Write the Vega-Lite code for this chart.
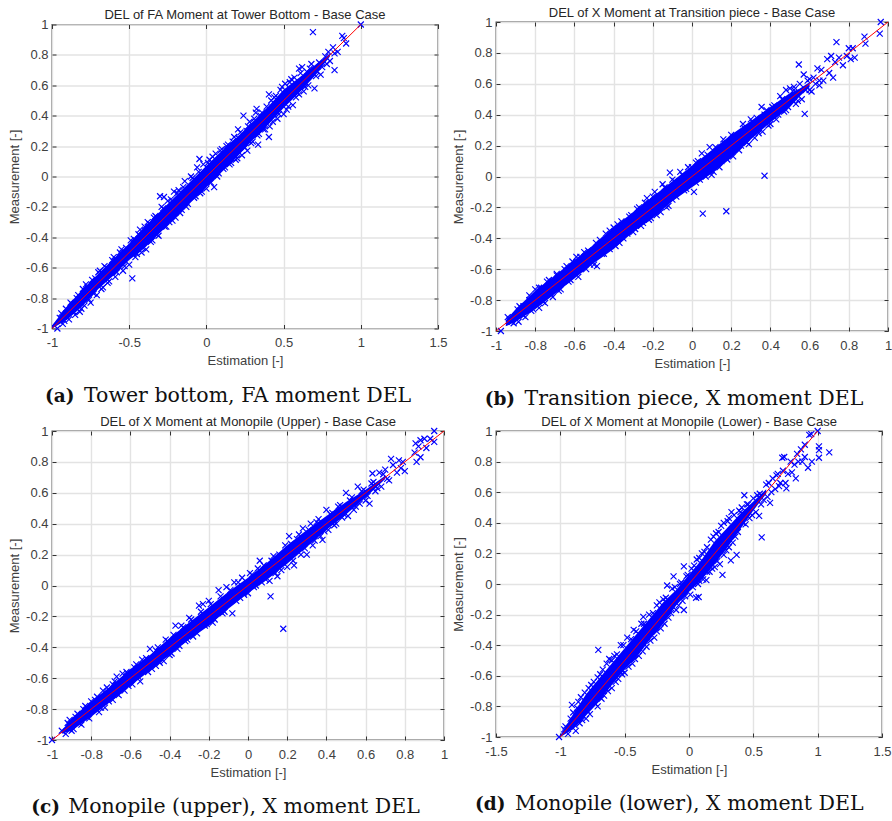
{"$schema":"https://vega.github.io/schema/vega-lite/v6.json","padding":{"left":7,"top":5,"right":0,"bottom":0},"autosize":{"type":"pad"},"background":"white","bounds":"flush","center":{"row":true,"column":false},"align":"all","columns":2,"spacing":{"row":100,"column":52},
"config":{"view":{"stroke":"#333333","strokeWidth":1.3},"axis":{"labelFont":"Liberation Sans","titleFont":"Liberation Sans","labelFontSize":13,"titleFontSize":13,"labelColor":"#404040","titleColor":"#404040","titleFontWeight":"normal","labelOverlap":false,"labelFlush":false},"title":{"font":"Liberation Sans","fontSize":13,"fontWeight":"normal","color":"#262626","offset":-3.5,"anchor":"middle"}},
"datasets":{
"lineRef":[{"x":-1,"y":-1},{"x":1,"y":1}],
"coreA":[{"x":-1,"lo":-1,"hi":-0.98},{"x":-0.9,"lo":-0.94,"hi":-0.85},{"x":-0.8,"lo":-0.85,"hi":-0.74},{"x":-0.7,"lo":-0.74,"hi":-0.64},{"x":-0.6,"lo":-0.65,"hi":-0.54},{"x":-0.5,"lo":-0.55,"hi":-0.44},{"x":-0.4,"lo":-0.47,"hi":-0.33},{"x":-0.3,"lo":-0.37,"hi":-0.23},{"x":-0.2,"lo":-0.27,"hi":-0.13},{"x":-0.1,"lo":-0.17,"hi":-0.03},{"x":0,"lo":-0.07,"hi":0.07},{"x":0.1,"lo":0.03,"hi":0.17},{"x":0.2,"lo":0.13,"hi":0.26},{"x":0.3,"lo":0.24,"hi":0.36},{"x":0.4,"lo":0.34,"hi":0.46},{"x":0.5,"lo":0.45,"hi":0.57},{"x":0.6,"lo":0.55,"hi":0.65},{"x":0.7,"lo":0.66,"hi":0.73},{"x":0.8,"lo":0.79,"hi":0.81}],
"coreB":[{"x":-0.95,"lo":-0.97,"hi":-0.93},{"x":-0.9,"lo":-0.94,"hi":-0.86},{"x":-0.8,"lo":-0.86,"hi":-0.74},{"x":-0.7,"lo":-0.76,"hi":-0.64},{"x":-0.6,"lo":-0.66,"hi":-0.54},{"x":-0.5,"lo":-0.56,"hi":-0.44},{"x":-0.4,"lo":-0.47,"hi":-0.33},{"x":-0.3,"lo":-0.36,"hi":-0.23},{"x":-0.2,"lo":-0.27,"hi":-0.13},{"x":-0.1,"lo":-0.16,"hi":-0.03},{"x":0,"lo":-0.07,"hi":0.07},{"x":0.1,"lo":0.02,"hi":0.17},{"x":0.2,"lo":0.12,"hi":0.27},{"x":0.3,"lo":0.24,"hi":0.36},{"x":0.4,"lo":0.35,"hi":0.45},{"x":0.5,"lo":0.45,"hi":0.54},{"x":0.55,"lo":0.52,"hi":0.57},{"x":0.6,"lo":0.58,"hi":0.61}],
"coreC":[{"x":-0.95,"lo":-0.96,"hi":-0.94},{"x":-0.9,"lo":-0.94,"hi":-0.86},{"x":-0.8,"lo":-0.85,"hi":-0.75},{"x":-0.7,"lo":-0.75,"hi":-0.65},{"x":-0.6,"lo":-0.65,"hi":-0.54},{"x":-0.5,"lo":-0.55,"hi":-0.45},{"x":-0.4,"lo":-0.45,"hi":-0.34},{"x":-0.3,"lo":-0.35,"hi":-0.24},{"x":-0.2,"lo":-0.26,"hi":-0.14},{"x":-0.1,"lo":-0.15,"hi":-0.04},{"x":0,"lo":-0.05,"hi":0.05},{"x":0.1,"lo":0.04,"hi":0.15},{"x":0.2,"lo":0.14,"hi":0.26},{"x":0.3,"lo":0.25,"hi":0.36},{"x":0.4,"lo":0.36,"hi":0.45},{"x":0.5,"lo":0.46,"hi":0.54},{"x":0.6,"lo":0.57,"hi":0.62},{"x":0.7,"lo":0.69,"hi":0.71}],
"coreD":[{"x":-1,"lo":-1,"hi":-0.99},{"x":-0.9,"lo":-0.95,"hi":-0.85},{"x":-0.8,"lo":-0.86,"hi":-0.72},{"x":-0.7,"lo":-0.77,"hi":-0.62},{"x":-0.6,"lo":-0.66,"hi":-0.52},{"x":-0.5,"lo":-0.56,"hi":-0.42},{"x":-0.4,"lo":-0.47,"hi":-0.32},{"x":-0.3,"lo":-0.36,"hi":-0.22},{"x":-0.2,"lo":-0.26,"hi":-0.12},{"x":-0.1,"lo":-0.14,"hi":-0.04},{"x":0,"lo":-0.05,"hi":0.06},{"x":0.1,"lo":0.03,"hi":0.16},{"x":0.2,"lo":0.13,"hi":0.28},{"x":0.3,"lo":0.24,"hi":0.37},{"x":0.4,"lo":0.36,"hi":0.46},{"x":0.5,"lo":0.48,"hi":0.54},{"x":0.6,"lo":0.59,"hi":0.62}],
"ptsA":[{"x":-0.965,"y":-1},{"x":-0.95,"y":-0.93},{"x":-0.93,"y":-0.97},{"x":-0.91,"y":-0.87},{"x":-0.89,"y":-0.94},{"x":-0.87,"y":-0.84},{"x":-0.85,"y":-0.91},{"x":-0.83,"y":-0.78},{"x":-0.82,"y":-0.89},{"x":-0.8,"y":-0.74},{"x":-0.79,"y":-0.85},{"x":-0.77,"y":-0.73},{"x":-0.75,"y":-0.83},{"x":-0.72,"y":-0.67},{"x":-0.71,"y":-0.78},{"x":-0.69,"y":-0.62},{"x":-0.67,"y":-0.73},{"x":-0.65,"y":-0.6},{"x":-0.63,"y":-0.69},{"x":-0.61,"y":-0.55},{"x":-0.59,"y":-0.66},{"x":-0.56,"y":-0.5},{"x":-0.54,"y":-0.62},{"x":-0.52,"y":-0.47},{"x":-0.5,"y":-0.58},{"x":-0.48,"y":-0.67},{"x":-0.47,"y":-0.41},{"x":-0.46,"y":-0.53},{"x":-0.44,"y":-0.38},{"x":-0.42,"y":-0.5},{"x":-0.4,"y":-0.33},{"x":-0.39,"y":-0.48},{"x":-0.37,"y":-0.31},{"x":-0.35,"y":-0.42},{"x":-0.33,"y":-0.26},{"x":-0.31,"y":-0.39},{"x":-0.3,"y":-0.13},{"x":-0.275,"y":-0.135},{"x":-0.28,"y":-0.21},{"x":-0.27,"y":-0.33},{"x":-0.25,"y":-0.16},{"x":-0.24,"y":-0.3},{"x":-0.21,"y":-0.1},{"x":-0.2,"y":-0.27},{"x":-0.18,"y":-0.09},{"x":-0.16,"y":-0.22},{"x":-0.14,"y":-0.03},{"x":-0.12,"y":-0.18},{"x":-0.1,"y":0},{"x":-0.08,"y":-0.14},{"x":-0.06,"y":0.06},{"x":-0.045,"y":0.115},{"x":-0.04,"y":-0.11},{"x":-0.02,"y":0.08},{"x":0,"y":-0.08},{"x":0.02,"y":0.11},{"x":0.05,"y":-0.07},{"x":0.06,"y":0.15},{"x":0.08,"y":0.02},{"x":0.09,"y":0.17},{"x":0.11,"y":0.05},{"x":0.13,"y":0.2},{"x":0.15,"y":0.08},{"x":0.17,"y":0.23},{"x":0.19,"y":0.11},{"x":0.205,"y":0.31},{"x":0.21,"y":0.25},{"x":0.23,"y":0.14},{"x":0.24,"y":0.4},{"x":0.26,"y":0.3},{"x":0.265,"y":0.17},{"x":0.28,"y":0.36},{"x":0.3,"y":0.23},{"x":0.32,"y":0.42},{"x":0.325,"y":0.445},{"x":0.335,"y":0.21},{"x":0.34,"y":0.28},{"x":0.36,"y":0.42},{"x":0.38,"y":0.31},{"x":0.405,"y":0.54},{"x":0.405,"y":0.26},{"x":0.42,"y":0.5},{"x":0.43,"y":0.36},{"x":0.45,"y":0.53},{"x":0.46,"y":0.38},{"x":0.48,"y":0.57},{"x":0.5,"y":0.41},{"x":0.51,"y":0.61},{"x":0.53,"y":0.46},{"x":0.54,"y":0.62},{"x":0.56,"y":0.47},{"x":0.57,"y":0.65},{"x":0.58,"y":0.52},{"x":0.6,"y":0.71},{"x":0.6,"y":0.54},{"x":0.62,"y":0.72},{"x":0.63,"y":0.56},{"x":0.65,"y":0.69},{"x":0.66,"y":0.6},{"x":0.68,"y":0.74},{"x":0.69,"y":0.95},{"x":0.7,"y":0.58},{"x":0.7,"y":0.7},{"x":0.71,"y":0.66},{"x":0.73,"y":0.75},{"x":0.74,"y":0.67},{"x":0.75,"y":0.72},{"x":0.77,"y":0.79},{"x":0.78,"y":0.74},{"x":0.79,"y":0.82},{"x":0.8,"y":0.76},{"x":0.82,"y":0.85},{"x":0.83,"y":0.7},{"x":0.83,"y":0.81},{"x":0.85,"y":0.82},{"x":0.88,"y":0.925},{"x":0.89,"y":0.91},{"x":0.905,"y":0.875},{"x":1,"y":1},
{"x":-0.94,"y":-0.9},{"x":-0.92,"y":-0.95},{"x":-0.88,"y":-0.83},{"x":-0.86,"y":-0.89},{"x":-0.84,"y":-0.8},{"x":-0.81,"y":-0.87},{"x":-0.78,"y":-0.71},{"x":-0.76,"y":-0.81},{"x":-0.74,"y":-0.68},{"x":-0.73,"y":-0.77},{"x":-0.7,"y":-0.63},{"x":-0.68,"y":-0.74},{"x":-0.66,"y":-0.59},{"x":-0.64,"y":-0.7},{"x":-0.6,"y":-0.53},{"x":-0.58,"y":-0.63},{"x":-0.55,"y":-0.48},{"x":-0.53,"y":-0.59},{"x":-0.49,"y":-0.42},{"x":-0.45,"y":-0.51},{"x":-0.43,"y":-0.35},{"x":-0.41,"y":-0.47},{"x":-0.38,"y":-0.3},{"x":-0.36,"y":-0.43},{"x":-0.34,"y":-0.27},{"x":-0.32,"y":-0.38},{"x":-0.29,"y":-0.2},{"x":-0.26,"y":-0.33},{"x":-0.23,"y":-0.15},{"x":-0.22,"y":-0.29},{"x":-0.19,"y":-0.11},{"x":-0.17,"y":-0.24},{"x":-0.15,"y":-0.07},{"x":-0.13,"y":-0.2},{"x":-0.09,"y":-0.01},{"x":-0.07,"y":-0.13},{"x":-0.05,"y":0.03},{"x":-0.03,"y":-0.1},{"x":0.01,"y":0.09},{"x":0.03,"y":-0.04},{"x":0.04,"y":0.13},{"x":0.07,"y":0},{"x":0.1,"y":0.18},{"x":0.12,"y":0.06},{"x":0.14,"y":0.21},{"x":0.16,"y":0.09},{"x":0.18,"y":0.26},{"x":0.2,"y":0.12},{"x":0.22,"y":0.29},{"x":0.25,"y":0.19},{"x":0.27,"y":0.33},{"x":0.29,"y":0.22},{"x":0.31,"y":0.38},{"x":0.33,"y":0.27},{"x":0.35,"y":0.4},{"x":0.37,"y":0.31},{"x":0.39,"y":0.46},{"x":0.41,"y":0.33},{"x":0.44,"y":0.52},{"x":0.47,"y":0.41},{"x":0.49,"y":0.59},{"x":0.52,"y":0.44},{"x":0.55,"y":0.64},{"x":0.59,"y":0.55},{"x":0.61,"y":0.68},{"x":0.64,"y":0.59},{"x":0.67,"y":0.71},{"x":0.72,"y":0.69}],
"ptsB":[{"x":-0.975,"y":-1},{"x":-0.93,"y":-0.93},{"x":-0.91,"y":-0.95},{"x":-0.89,"y":-0.86},{"x":-0.885,"y":-0.94},{"x":-0.86,"y":-0.84},{"x":-0.85,"y":-0.91},{"x":-0.83,"y":-0.8},{"x":-0.82,"y":-0.87},{"x":-0.8,"y":-0.73},{"x":-0.78,"y":-0.85},{"x":-0.77,"y":-0.72},{"x":-0.75,"y":-0.82},{"x":-0.73,"y":-0.67},{"x":-0.71,"y":-0.78},{"x":-0.69,"y":-0.64},{"x":-0.67,"y":-0.73},{"x":-0.65,"y":-0.6},{"x":-0.63,"y":-0.68},{"x":-0.61,"y":-0.55},{"x":-0.58,"y":-0.65},{"x":-0.57,"y":-0.52},{"x":-0.54,"y":-0.6},{"x":-0.53,"y":-0.48},{"x":-0.5,"y":-0.57},{"x":-0.485,"y":-0.58},{"x":-0.49,"y":-0.43},{"x":-0.46,"y":-0.5},{"x":-0.44,"y":-0.37},{"x":-0.42,"y":-0.47},{"x":-0.4,"y":-0.33},{"x":-0.37,"y":-0.43},{"x":-0.36,"y":-0.29},{"x":-0.33,"y":-0.37},{"x":-0.31,"y":-0.25},{"x":-0.29,"y":-0.34},{"x":-0.27,"y":-0.2},{"x":-0.25,"y":-0.3},{"x":-0.23,"y":-0.14},{"x":-0.21,"y":-0.27},{"x":-0.19,"y":-0.1},{"x":-0.16,"y":-0.23},{"x":-0.15,"y":-0.05},{"x":-0.113,"y":0.025},{"x":-0.12,"y":-0.19},{"x":-0.1,"y":-0.02},{"x":-0.08,"y":-0.13},{"x":-0.06,"y":0.03},{"x":-0.04,"y":-0.09},{"x":-0.02,"y":0.06},{"x":0.01,"y":-0.1},{"x":0.02,"y":0.09},{"x":0.04,"y":-0.02},{"x":0.05,"y":0.15},{"x":0.07,"y":0},{"x":0.055,"y":-0.24},{"x":0.09,"y":0.19},{"x":0.11,"y":0.03},{"x":0.13,"y":0.16},{"x":0.15,"y":0.1},{"x":0.16,"y":0.24},{"x":0.175,"y":-0.225},{"x":0.2,"y":0.27},{"x":0.21,"y":0.13},{"x":0.23,"y":0.26},{"x":0.25,"y":0.2},{"x":0.26,"y":0.34},{"x":0.28,"y":0.22},{"x":0.3,"y":0.37},{"x":0.32,"y":0.25},{"x":0.33,"y":0.38},{"x":0.355,"y":0.45},{"x":0.36,"y":0.29},{"x":0.37,"y":0.005},{"x":0.38,"y":0.43},{"x":0.4,"y":0.34},{"x":0.42,"y":0.46},{"x":0.44,"y":0.4},{"x":0.45,"y":0.52},{"x":0.47,"y":0.42},{"x":0.48,"y":0.56},{"x":0.49,"y":0.45},{"x":0.5,"y":0.57},{"x":0.51,"y":0.5},{"x":0.52,"y":0.58},{"x":0.53,"y":0.47},{"x":0.545,"y":0.725},{"x":0.55,"y":0.6},{"x":0.56,"y":0.5},{"x":0.57,"y":0.66},{"x":0.575,"y":0.405},{"x":0.58,"y":0.56},{"x":0.6,"y":0.63},{"x":0.61,"y":0.55},{"x":0.63,"y":0.6},{"x":0.64,"y":0.7},{"x":0.65,"y":0.59},{"x":0.66,"y":0.69},{"x":0.67,"y":0.62},{"x":0.69,"y":0.76},{"x":0.7,"y":0.67},{"x":0.71,"y":0.78},{"x":0.72,"y":0.64},{"x":0.73,"y":0.74},{"x":0.737,"y":0.87},{"x":0.75,"y":0.77},{"x":0.77,"y":0.72},{"x":0.79,"y":0.78},{"x":0.8,"y":0.83},{"x":0.81,"y":0.76},{"x":0.82,"y":0.83},{"x":0.83,"y":0.77},{"x":0.88,"y":0.905},{"x":0.885,"y":0.86},{"x":0.958,"y":0.925},{"x":0.963,"y":1},
{"x":-0.94,"y":-0.91},{"x":-0.92,"y":-0.94},{"x":-0.88,"y":-0.84},{"x":-0.86,"y":-0.9},{"x":-0.83,"y":-0.77},{"x":-0.81,"y":-0.86},{"x":-0.78,"y":-0.72},{"x":-0.76,"y":-0.81},{"x":-0.74,"y":-0.68},{"x":-0.72,"y":-0.76},{"x":-0.69,"y":-0.63},{"x":-0.68,"y":-0.74},{"x":-0.64,"y":-0.58},{"x":-0.62,"y":-0.67},{"x":-0.59,"y":-0.52},{"x":-0.57,"y":-0.6},{"x":-0.55,"y":-0.49},{"x":-0.52,"y":-0.57},{"x":-0.47,"y":-0.41},{"x":-0.45,"y":-0.5},{"x":-0.42,"y":-0.35},{"x":-0.39,"y":-0.45},{"x":-0.38,"y":-0.31},{"x":-0.35,"y":-0.4},{"x":-0.32,"y":-0.26},{"x":-0.3,"y":-0.36},{"x":-0.28,"y":-0.21},{"x":-0.26,"y":-0.32},{"x":-0.24,"y":-0.17},{"x":-0.22,"y":-0.28},{"x":-0.2,"y":-0.13},{"x":-0.18,"y":-0.25},{"x":-0.14,"y":-0.07},{"x":-0.13,"y":-0.2},{"x":-0.09,"y":-0.03},{"x":-0.1,"y":-0.15},{"x":-0.05,"y":0.01},{"x":-0.03,"y":-0.08},{"x":0,"y":0.06},{"x":0.02,"y":-0.04},{"x":0.03,"y":0.1},{"x":0.06,"y":0.02},{"x":0.08,"y":0.14},{"x":0.1,"y":0.01},{"x":0.12,"y":0.19},{"x":0.14,"y":0.06},{"x":0.17,"y":0.21},{"x":0.18,"y":0.11},{"x":0.22,"y":0.25},{"x":0.24,"y":0.17},{"x":0.27,"y":0.31},{"x":0.29,"y":0.21},{"x":0.31,"y":0.35},{"x":0.34,"y":0.28},{"x":0.37,"y":0.4},{"x":0.39,"y":0.33},{"x":0.41,"y":0.45},{"x":0.43,"y":0.37},{"x":0.46,"y":0.5},{"x":0.48,"y":0.43},{"x":0.52,"y":0.56},{"x":0.54,"y":0.49},{"x":0.59,"y":0.62},{"x":0.6,"y":0.56},{"x":0.62,"y":0.64},{"x":0.65,"y":0.62}],
"ptsC":[{"x":-1,"y":-1},{"x":-0.95,"y":-0.94},{"x":-0.93,"y":-0.96},{"x":-0.91,"y":-0.87},{"x":-0.89,"y":-0.93},{"x":-0.87,"y":-0.83},{"x":-0.85,"y":-0.9},{"x":-0.84,"y":-0.8},{"x":-0.81,"y":-0.86},{"x":-0.8,"y":-0.75},{"x":-0.76,"y":-0.82},{"x":-0.77,"y":-0.72},{"x":-0.73,"y":-0.79},{"x":-0.72,"y":-0.66},{"x":-0.69,"y":-0.74},{"x":-0.68,"y":-0.62},{"x":-0.66,"y":-0.71},{"x":-0.67,"y":-0.59},{"x":-0.63,"y":-0.68},{"x":-0.62,"y":-0.56},{"x":-0.59,"y":-0.64},{"x":-0.58,"y":-0.53},{"x":-0.55,"y":-0.62},{"x":-0.54,"y":-0.48},{"x":-0.51,"y":-0.56},{"x":-0.5,"y":-0.41},{"x":-0.47,"y":-0.52},{"x":-0.47,"y":-0.42},{"x":-0.43,"y":-0.49},{"x":-0.42,"y":-0.35},{"x":-0.39,"y":-0.44},{"x":-0.37,"y":-0.26},{"x":-0.35,"y":-0.39},{"x":-0.34,"y":-0.26},{"x":-0.31,"y":-0.35},{"x":-0.3,"y":-0.21},{"x":-0.26,"y":-0.31},{"x":-0.25,"y":-0.13},{"x":-0.23,"y":-0.12},{"x":-0.22,"y":-0.26},{"x":-0.2,"y":-0.1},{"x":-0.17,"y":-0.22},{"x":-0.15,"y":-0.03},{"x":-0.12,"y":-0.17},{"x":-0.11,"y":-0.01},{"x":-0.08,"y":-0.18},{"x":-0.07,"y":0.02},{"x":-0.04,"y":-0.08},{"x":-0.03,"y":0.05},{"x":0,"y":-0.05},{"x":0.01,"y":0.08},{"x":0.03,"y":-0.01},{"x":0.05,"y":0.11},{"x":0.07,"y":0.02},{"x":0.06,"y":0.16},{"x":0.11,"y":0.03},{"x":0.115,"y":-0.07},{"x":0.13,"y":0.19},{"x":0.15,"y":0.06},{"x":0.18,"y":-0.28},{"x":0.19,"y":0.26},{"x":0.2,"y":0.12},{"x":0.21,"y":0.32},{"x":0.235,"y":0.13},{"x":0.25,"y":0.3},{"x":0.27,"y":0.2},{"x":0.28,"y":0.37},{"x":0.3,"y":0.2},{"x":0.32,"y":0.4},{"x":0.33,"y":0.26},{"x":0.35,"y":0.41},{"x":0.37,"y":0.32},{"x":0.38,"y":0.295},{"x":0.4,"y":0.49},{"x":0.41,"y":0.36},{"x":0.43,"y":0.47},{"x":0.45,"y":0.4},{"x":0.47,"y":0.52},{"x":0.48,"y":0.44},{"x":0.5,"y":0.6},{"x":0.51,"y":0.45},{"x":0.52,"y":0.55},{"x":0.54,"y":0.49},{"x":0.56,"y":0.64},{"x":0.57,"y":0.53},{"x":0.58,"y":0.61},{"x":0.6,"y":0.55},{"x":0.62,"y":0.53},{"x":0.63,"y":0.66},{"x":0.635,"y":0.725},{"x":0.65,"y":0.61},{"x":0.67,"y":0.73},{"x":0.68,"y":0.64},{"x":0.7,"y":0.75},{"x":0.72,"y":0.68},{"x":0.73,"y":0.82},{"x":0.74,"y":0.78},{"x":0.76,"y":0.73},{"x":0.77,"y":0.81},{"x":0.78,"y":0.76},{"x":0.79,"y":0.8},{"x":0.8,"y":0.74},{"x":0.85,"y":0.86},{"x":0.86,"y":0.8},{"x":0.87,"y":0.9},{"x":0.855,"y":0.92},{"x":0.88,"y":0.83},{"x":0.88,"y":0.94},{"x":0.9,"y":0.95},{"x":0.91,"y":0.89},{"x":0.93,"y":0.95},{"x":0.95,"y":0.93},{"x":0.95,"y":1},
{"x":-0.92,"y":-0.89},{"x":-0.9,"y":-0.94},{"x":-0.88,"y":-0.85},{"x":-0.86,"y":-0.89},{"x":-0.83,"y":-0.78},{"x":-0.82,"y":-0.85},{"x":-0.78,"y":-0.74},{"x":-0.75,"y":-0.79},{"x":-0.74,"y":-0.68},{"x":-0.71,"y":-0.75},{"x":-0.69,"y":-0.64},{"x":-0.67,"y":-0.7},{"x":-0.64,"y":-0.57},{"x":-0.61,"y":-0.65},{"x":-0.57,"y":-0.51},{"x":-0.56,"y":-0.59},{"x":-0.52,"y":-0.47},{"x":-0.49,"y":-0.54},{"x":-0.46,"y":-0.4},{"x":-0.45,"y":-0.5},{"x":-0.41,"y":-0.36},{"x":-0.4,"y":-0.45},{"x":-0.38,"y":-0.32},{"x":-0.36,"y":-0.41},{"x":-0.33,"y":-0.27},{"x":-0.32,"y":-0.36},{"x":-0.29,"y":-0.22},{"x":-0.28,"y":-0.33},{"x":-0.24,"y":-0.17},{"x":-0.21,"y":-0.25},{"x":-0.19,"y":-0.12},{"x":-0.18,"y":-0.24},{"x":-0.14,"y":-0.07},{"x":-0.13,"y":-0.18},{"x":-0.09,"y":-0.03},{"x":-0.06,"y":-0.1},{"x":-0.05,"y":0.02},{"x":-0.02,"y":-0.06},{"x":0.02,"y":0.07},{"x":0.04,"y":0},{"x":0.08,"y":0.13},{"x":0.09,"y":0.04},{"x":0.12,"y":0.16},{"x":0.14,"y":0.08},{"x":0.16,"y":0.2},{"x":0.17,"y":0.1},{"x":0.22,"y":0.27},{"x":0.23,"y":0.16},{"x":0.26,"y":0.33},{"x":0.29,"y":0.24},{"x":0.31,"y":0.36},{"x":0.34,"y":0.29},{"x":0.36,"y":0.43},{"x":0.39,"y":0.35},{"x":0.42,"y":0.46},{"x":0.44,"y":0.39},{"x":0.46,"y":0.51},{"x":0.49,"y":0.46},{"x":0.53,"y":0.57},{"x":0.55,"y":0.51},{"x":0.59,"y":0.62},{"x":0.61,"y":0.58},{"x":0.64,"y":0.67},{"x":0.66,"y":0.63},{"x":0.69,"y":0.72},{"x":0.71,"y":0.69}],
"ptsD":[{"x":-1.01,"y":-1},{"x":-0.96,"y":-0.93},{"x":-0.94,"y":-0.98},{"x":-0.91,"y":-0.79},{"x":-0.92,"y":-0.88},{"x":-0.88,"y":-0.96},{"x":-0.87,"y":-0.81},{"x":-0.85,"y":-0.91},{"x":-0.84,"y":-0.74},{"x":-0.8,"y":-0.88},{"x":-0.78,"y":-0.68},{"x":-0.77,"y":-0.85},{"x":-0.74,"y":-0.64},{"x":-0.71,"y":-0.8},{"x":-0.705,"y":-0.43},{"x":-0.69,"y":-0.59},{"x":-0.66,"y":-0.73},{"x":-0.64,"y":-0.52},{"x":-0.62,"y":-0.49},{"x":-0.6,"y":-0.68},{"x":-0.58,"y":-0.47},{"x":-0.55,"y":-0.62},{"x":-0.53,"y":-0.4},{"x":-0.5,"y":-0.58},{"x":-0.48,"y":-0.35},{"x":-0.44,"y":-0.52},{"x":-0.43,"y":-0.3},{"x":-0.39,"y":-0.47},{"x":-0.37,"y":-0.26},{"x":-0.355,"y":-0.215},{"x":-0.33,"y":-0.41},{"x":-0.31,"y":-0.2},{"x":-0.27,"y":-0.35},{"x":-0.25,"y":-0.14},{"x":-0.22,"y":-0.29},{"x":-0.2,"y":-0.1},{"x":-0.17,"y":-0.01},{"x":-0.16,"y":-0.22},{"x":-0.13,"y":-0.03},{"x":-0.12,"y":0.05},{"x":-0.1,"y":-0.17},{"x":-0.07,"y":0},{"x":-0.05,"y":-0.11},{"x":-0.04,"y":0.115},{"x":-0.04,"y":-0.17},{"x":-0.02,"y":0.05},{"x":0.01,"y":-0.07},{"x":0.02,"y":0.1},{"x":0.055,"y":-0.09},{"x":0.075,"y":-0.085},{"x":0.06,"y":0.16},{"x":0.08,"y":0.02},{"x":0.1,"y":0.2},{"x":0.135,"y":0.025},{"x":0.14,"y":0.24},{"x":0.16,"y":0.08},{"x":0.19,"y":0.31},{"x":0.2,"y":0.11},{"x":0.23,"y":0.34},{"x":0.24,"y":0.13},{"x":0.26,"y":0.06},{"x":0.27,"y":0.4},{"x":0.29,"y":0.22},{"x":0.31,"y":0.43},{"x":0.325,"y":0.155},{"x":0.34,"y":0.27},{"x":0.33,"y":0.47},{"x":0.37,"y":0.19},{"x":0.38,"y":0.34},{"x":0.39,"y":0.48},{"x":0.41,"y":0.5},{"x":0.42,"y":0.4},{"x":0.43,"y":0.58},{"x":0.46,"y":0.52},{"x":0.47,"y":0.43},{"x":0.5,"y":0.56},{"x":0.52,"y":0.47},{"x":0.545,"y":0.445},{"x":0.55,"y":0.59},{"x":0.565,"y":0.305},{"x":0.58,"y":0.55},{"x":0.6,"y":0.65},{"x":0.61,"y":0.57},{"x":0.63,"y":0.53},{"x":0.65,"y":0.69},{"x":0.67,"y":0.62},{"x":0.69,"y":0.72},{"x":0.71,"y":0.66},{"x":0.725,"y":0.825},{"x":0.74,"y":0.83},{"x":0.73,"y":0.74},{"x":0.75,"y":0.66},{"x":0.757,"y":0.625},{"x":0.77,"y":0.72},{"x":0.79,"y":0.8},{"x":0.8,"y":0.73},{"x":0.83,"y":0.69},{"x":0.82,"y":0.78},{"x":0.84,"y":0.85},{"x":0.85,"y":0.8},{"x":0.87,"y":0.88},{"x":0.88,"y":0.8},{"x":0.9,"y":0.91},{"x":0.9,"y":0.83},{"x":0.925,"y":0.76},{"x":0.935,"y":0.975},{"x":0.955,"y":0.8},{"x":0.95,"y":0.98},{"x":1,"y":1},{"x":1.01,"y":0.9},{"x":1.01,"y":0.875},{"x":1.01,"y":0.825},{"x":1.09,"y":0.86},
{"x":-0.97,"y":-0.95},{"x":-0.9,"y":-0.84},{"x":-0.89,"y":-0.92},{"x":-0.86,"y":-0.77},{"x":-0.83,"y":-0.89},{"x":-0.81,"y":-0.71},{"x":-0.79,"y":-0.83},{"x":-0.76,"y":-0.66},{"x":-0.73,"y":-0.78},{"x":-0.71,"y":-0.61},{"x":-0.68,"y":-0.75},{"x":-0.67,"y":-0.56},{"x":-0.63,"y":-0.7},{"x":-0.6,"y":-0.5},{"x":-0.57,"y":-0.64},{"x":-0.56,"y":-0.46},{"x":-0.52,"y":-0.59},{"x":-0.51,"y":-0.4},{"x":-0.47,"y":-0.54},{"x":-0.45,"y":-0.36},{"x":-0.42,"y":-0.49},{"x":-0.41,"y":-0.31},{"x":-0.36,"y":-0.44},{"x":-0.35,"y":-0.26},{"x":-0.3,"y":-0.37},{"x":-0.28,"y":-0.19},{"x":-0.25,"y":-0.31},{"x":-0.23,"y":-0.12},{"x":-0.19,"y":-0.26},{"x":-0.18,"y":-0.09},{"x":-0.14,"y":-0.19},{"x":-0.11,"y":-0.02},{"x":-0.08,"y":-0.14},{"x":-0.06,"y":0.01},{"x":-0.03,"y":-0.08},{"x":-0.01,"y":0.06},{"x":0.03,"y":-0.02},{"x":0.04,"y":0.12},{"x":0.07,"y":0},{"x":0.08,"y":0.17},{"x":0.11,"y":0.03},{"x":0.12,"y":0.21},{"x":0.14,"y":0.08},{"x":0.17,"y":0.29},{"x":0.18,"y":0.1},{"x":0.21,"y":0.33},{"x":0.22,"y":0.15},{"x":0.25,"y":0.38},{"x":0.27,"y":0.19},{"x":0.3,"y":0.41},{"x":0.31,"y":0.24},{"x":0.35,"y":0.45},{"x":0.36,"y":0.31},{"x":0.4,"y":0.47},{"x":0.44,"y":0.39},{"x":0.45,"y":0.52},{"x":0.49,"y":0.45},{"x":0.53,"y":0.58},{"x":0.56,"y":0.52},{"x":0.62,"y":0.66},{"x":0.64,"y":0.6},{"x":0.68,"y":0.71},{"x":0.7,"y":0.64}]
},
"concat":[
{"width":386,"height":304,"title":"DEL of FA Moment at Tower Bottom - Base Case","resolve":{"axis":{"x":"independent","y":"independent"}},"layer":[
{"data":{"name":"coreA"},"mark":{"type":"area","color":"#0000ff","opacity":1},"encoding":{"x":{"field":"x","type":"quantitative","scale":{"domain":[-1,1.5],"nice":false,"zero":false},"axis":{"orient":"bottom","values":[-1,-0.5,0,0.5,1,1.5],"labelExpr":"''+datum.value","title":"Estimation [-]","grid":true,"gridColor":"#e3e3e3","gridWidth":1.4,"domain":false,"tickColor":"#333333","tickSize":-4,"labelPadding":12,"titlePadding":5}},"y":{"field":"lo","type":"quantitative","scale":{"domain":[-1,1],"nice":false},"axis":{"orient":"left","values":[-1,-0.8,-0.6,-0.4,-0.2,0,0.2,0.4,0.6,0.8,1],"labelExpr":"''+datum.value","title":"Measurement [-]","grid":true,"gridColor":"#e3e3e3","gridWidth":1.4,"domain":false,"tickColor":"#333333","tickSize":-4,"labelPadding":8,"titlePadding":4}},"y2":{"field":"hi"}}},
{"data":{"name":"ptsA"},"mark":{"type":"point","shape":"M-1,-1L1,1M-1,1L1,-1","filled":false,"color":"#0000ff","size":36,"strokeWidth":1.15,"opacity":1},"encoding":{"x":{"field":"x","type":"quantitative","axis":{"orient":"top","values":[-1,-0.5,0,0.5,1,1.5],"labels":false,"title":null,"grid":false,"domain":false,"tickColor":"#333333","tickSize":-4}},"y":{"field":"y","type":"quantitative","axis":{"orient":"right","values":[-1,-0.8,-0.6,-0.4,-0.2,0,0.2,0.4,0.6,0.8,1],"labels":false,"title":null,"grid":false,"domain":false,"tickColor":"#333333","tickSize":-4}}}},
{"data":{"name":"lineRef"},"mark":{"type":"line","color":"#ff0000","strokeWidth":1},"encoding":{"x":{"field":"x","type":"quantitative","axis":null},"y":{"field":"y","type":"quantitative","axis":null}}},
{"data":{"values":[{"x":-1.045,"y":-1.486,"t":"(a)"}]},"mark":{"type":"text","align":"left","baseline":"alphabetic","font":"DejaVu Serif","fontWeight":"bold","fontSize":18.5,"color":"#111111"},"encoding":{"x":{"field":"x","type":"quantitative","axis":null},"y":{"field":"y","type":"quantitative","axis":null},"text":{"field":"t"}}},
{"data":{"values":[{"x":-0.793,"y":-1.486,"t":"Tower bottom, FA moment DEL"}]},"mark":{"type":"text","align":"left","baseline":"alphabetic","font":"DejaVu Serif","fontSize":20.5,"color":"#111111"},"encoding":{"x":{"field":"x","type":"quantitative","axis":null},"y":{"field":"y","type":"quantitative","axis":null},"text":{"field":"t"}}}
]},
{"width":392,"height":309,"title":"DEL of X Moment at Transition piece - Base Case","resolve":{"axis":{"x":"independent","y":"independent"}},"layer":[
{"data":{"name":"coreB"},"mark":{"type":"area","color":"#0000ff","opacity":1},"encoding":{"x":{"field":"x","type":"quantitative","scale":{"domain":[-1,1],"nice":false,"zero":false},"axis":{"orient":"bottom","values":[-1,-0.8,-0.6,-0.4,-0.2,0,0.2,0.4,0.6,0.8,1],"labelExpr":"''+datum.value","title":"Estimation [-]","grid":true,"gridColor":"#e3e3e3","gridWidth":1.4,"domain":false,"tickColor":"#333333","tickSize":-4,"labelPadding":12,"titlePadding":5}},"y":{"field":"lo","type":"quantitative","scale":{"domain":[-1,1],"nice":false},"axis":{"orient":"left","values":[-1,-0.8,-0.6,-0.4,-0.2,0,0.2,0.4,0.6,0.8,1],"labelExpr":"''+datum.value","title":"Measurement [-]","grid":true,"gridColor":"#e3e3e3","gridWidth":1.4,"domain":false,"tickColor":"#333333","tickSize":-4,"labelPadding":8,"titlePadding":4}},"y2":{"field":"hi"}}},
{"data":{"name":"ptsB"},"mark":{"type":"point","shape":"M-1,-1L1,1M-1,1L1,-1","filled":false,"color":"#0000ff","size":36,"strokeWidth":1.15,"opacity":1},"encoding":{"x":{"field":"x","type":"quantitative","axis":{"orient":"top","values":[-1,-0.8,-0.6,-0.4,-0.2,0,0.2,0.4,0.6,0.8,1],"labels":false,"title":null,"grid":false,"domain":false,"tickColor":"#333333","tickSize":-4}},"y":{"field":"y","type":"quantitative","axis":{"orient":"right","values":[-1,-0.8,-0.6,-0.4,-0.2,0,0.2,0.4,0.6,0.8,1],"labels":false,"title":null,"grid":false,"domain":false,"tickColor":"#333333","tickSize":-4}}}},
{"data":{"name":"lineRef"},"mark":{"type":"line","color":"#ff0000","strokeWidth":1},"encoding":{"x":{"field":"x","type":"quantitative","axis":null},"y":{"field":"y","type":"quantitative","axis":null}}},
{"data":{"values":[{"x":-1.058,"y":-1.478,"t":"(b)"}]},"mark":{"type":"text","align":"left","baseline":"alphabetic","font":"DejaVu Serif","fontWeight":"bold","fontSize":18.5,"color":"#111111"},"encoding":{"x":{"field":"x","type":"quantitative","axis":null},"y":{"field":"y","type":"quantitative","axis":null},"text":{"field":"t"}}},
{"data":{"values":[{"x":-0.854,"y":-1.478,"t":"Transition piece, X moment DEL"}]},"mark":{"type":"text","align":"left","baseline":"alphabetic","font":"DejaVu Serif","fontSize":20.5,"color":"#111111"},"encoding":{"x":{"field":"x","type":"quantitative","axis":null},"y":{"field":"y","type":"quantitative","axis":null},"text":{"field":"t"}}}
]},
{"width":392,"height":309,"title":"DEL of X Moment at Monopile (Upper) - Base Case","resolve":{"axis":{"x":"independent","y":"independent"}},"layer":[
{"data":{"name":"coreC"},"mark":{"type":"area","color":"#0000ff","opacity":1},"encoding":{"x":{"field":"x","type":"quantitative","scale":{"domain":[-1,1],"nice":false,"zero":false},"axis":{"orient":"bottom","values":[-1,-0.8,-0.6,-0.4,-0.2,0,0.2,0.4,0.6,0.8,1],"labelExpr":"''+datum.value","title":"Estimation [-]","grid":true,"gridColor":"#e3e3e3","gridWidth":1.4,"domain":false,"tickColor":"#333333","tickSize":-4,"labelPadding":12,"titlePadding":5}},"y":{"field":"lo","type":"quantitative","scale":{"domain":[-1,1],"nice":false},"axis":{"orient":"left","values":[-1,-0.8,-0.6,-0.4,-0.2,0,0.2,0.4,0.6,0.8,1],"labelExpr":"''+datum.value","title":"Measurement [-]","grid":true,"gridColor":"#e3e3e3","gridWidth":1.4,"domain":false,"tickColor":"#333333","tickSize":-4,"labelPadding":8,"titlePadding":4}},"y2":{"field":"hi"}}},
{"data":{"name":"ptsC"},"mark":{"type":"point","shape":"M-1,-1L1,1M-1,1L1,-1","filled":false,"color":"#0000ff","size":36,"strokeWidth":1.15,"opacity":1},"encoding":{"x":{"field":"x","type":"quantitative","axis":{"orient":"top","values":[-1,-0.8,-0.6,-0.4,-0.2,0,0.2,0.4,0.6,0.8,1],"labels":false,"title":null,"grid":false,"domain":false,"tickColor":"#333333","tickSize":-4}},"y":{"field":"y","type":"quantitative","axis":{"orient":"right","values":[-1,-0.8,-0.6,-0.4,-0.2,0,0.2,0.4,0.6,0.8,1],"labels":false,"title":null,"grid":false,"domain":false,"tickColor":"#333333","tickSize":-4}}}},
{"data":{"name":"lineRef"},"mark":{"type":"line","color":"#ff0000","strokeWidth":1},"encoding":{"x":{"field":"x","type":"quantitative","axis":null},"y":{"field":"y","type":"quantitative","axis":null}}},
{"data":{"values":[{"x":-1.106,"y":-1.472,"t":"(c)"}]},"mark":{"type":"text","align":"left","baseline":"alphabetic","font":"DejaVu Serif","fontWeight":"bold","fontSize":18.5,"color":"#111111"},"encoding":{"x":{"field":"x","type":"quantitative","axis":null},"y":{"field":"y","type":"quantitative","axis":null},"text":{"field":"t"}}},
{"data":{"values":[{"x":-0.917,"y":-1.472,"t":"Monopile (upper), X moment DEL"}]},"mark":{"type":"text","align":"left","baseline":"alphabetic","font":"DejaVu Serif","fontSize":20.5,"color":"#111111"},"encoding":{"x":{"field":"x","type":"quantitative","axis":null},"y":{"field":"y","type":"quantitative","axis":null},"text":{"field":"t"}}}
]},
{"width":386,"height":306,"title":"DEL of X Moment at Monopile (Lower) - Base Case","resolve":{"axis":{"x":"independent","y":"independent"}},"layer":[
{"data":{"name":"coreD"},"mark":{"type":"area","color":"#0000ff","opacity":1},"encoding":{"x":{"field":"x","type":"quantitative","scale":{"domain":[-1.5,1.5],"nice":false,"zero":false},"axis":{"orient":"bottom","values":[-1.5,-1,-0.5,0,0.5,1,1.5],"labelExpr":"''+datum.value","title":"Estimation [-]","grid":true,"gridColor":"#e3e3e3","gridWidth":1.4,"domain":false,"tickColor":"#333333","tickSize":-4,"labelPadding":12,"titlePadding":5}},"y":{"field":"lo","type":"quantitative","scale":{"domain":[-1,1],"nice":false},"axis":{"orient":"left","values":[-1,-0.8,-0.6,-0.4,-0.2,0,0.2,0.4,0.6,0.8,1],"labelExpr":"''+datum.value","title":"Measurement [-]","grid":true,"gridColor":"#e3e3e3","gridWidth":1.4,"domain":false,"tickColor":"#333333","tickSize":-4,"labelPadding":8,"titlePadding":4}},"y2":{"field":"hi"}}},
{"data":{"name":"ptsD"},"mark":{"type":"point","shape":"M-1,-1L1,1M-1,1L1,-1","filled":false,"color":"#0000ff","size":36,"strokeWidth":1.15,"opacity":1},"encoding":{"x":{"field":"x","type":"quantitative","axis":{"orient":"top","values":[-1.5,-1,-0.5,0,0.5,1,1.5],"labels":false,"title":null,"grid":false,"domain":false,"tickColor":"#333333","tickSize":-4}},"y":{"field":"y","type":"quantitative","axis":{"orient":"right","values":[-1,-0.8,-0.6,-0.4,-0.2,0,0.2,0.4,0.6,0.8,1],"labels":false,"title":null,"grid":false,"domain":false,"tickColor":"#333333","tickSize":-4}}}},
{"data":{"name":"lineRef"},"mark":{"type":"line","color":"#ff0000","strokeWidth":1},"encoding":{"x":{"field":"x","type":"quantitative","axis":null},"y":{"field":"y","type":"quantitative","axis":null}}},
{"data":{"values":[{"x":-1.663,"y":-1.476,"t":"(d)"}]},"mark":{"type":"text","align":"left","baseline":"alphabetic","font":"DejaVu Serif","fontWeight":"bold","fontSize":18.5,"color":"#111111"},"encoding":{"x":{"field":"x","type":"quantitative","axis":null},"y":{"field":"y","type":"quantitative","axis":null},"text":{"field":"t"}}},
{"data":{"values":[{"x":-1.353,"y":-1.476,"t":"Monopile (lower), X moment DEL"}]},"mark":{"type":"text","align":"left","baseline":"alphabetic","font":"DejaVu Serif","fontSize":20.5,"color":"#111111"},"encoding":{"x":{"field":"x","type":"quantitative","axis":null},"y":{"field":"y","type":"quantitative","axis":null},"text":{"field":"t"}}}
]}
]}
